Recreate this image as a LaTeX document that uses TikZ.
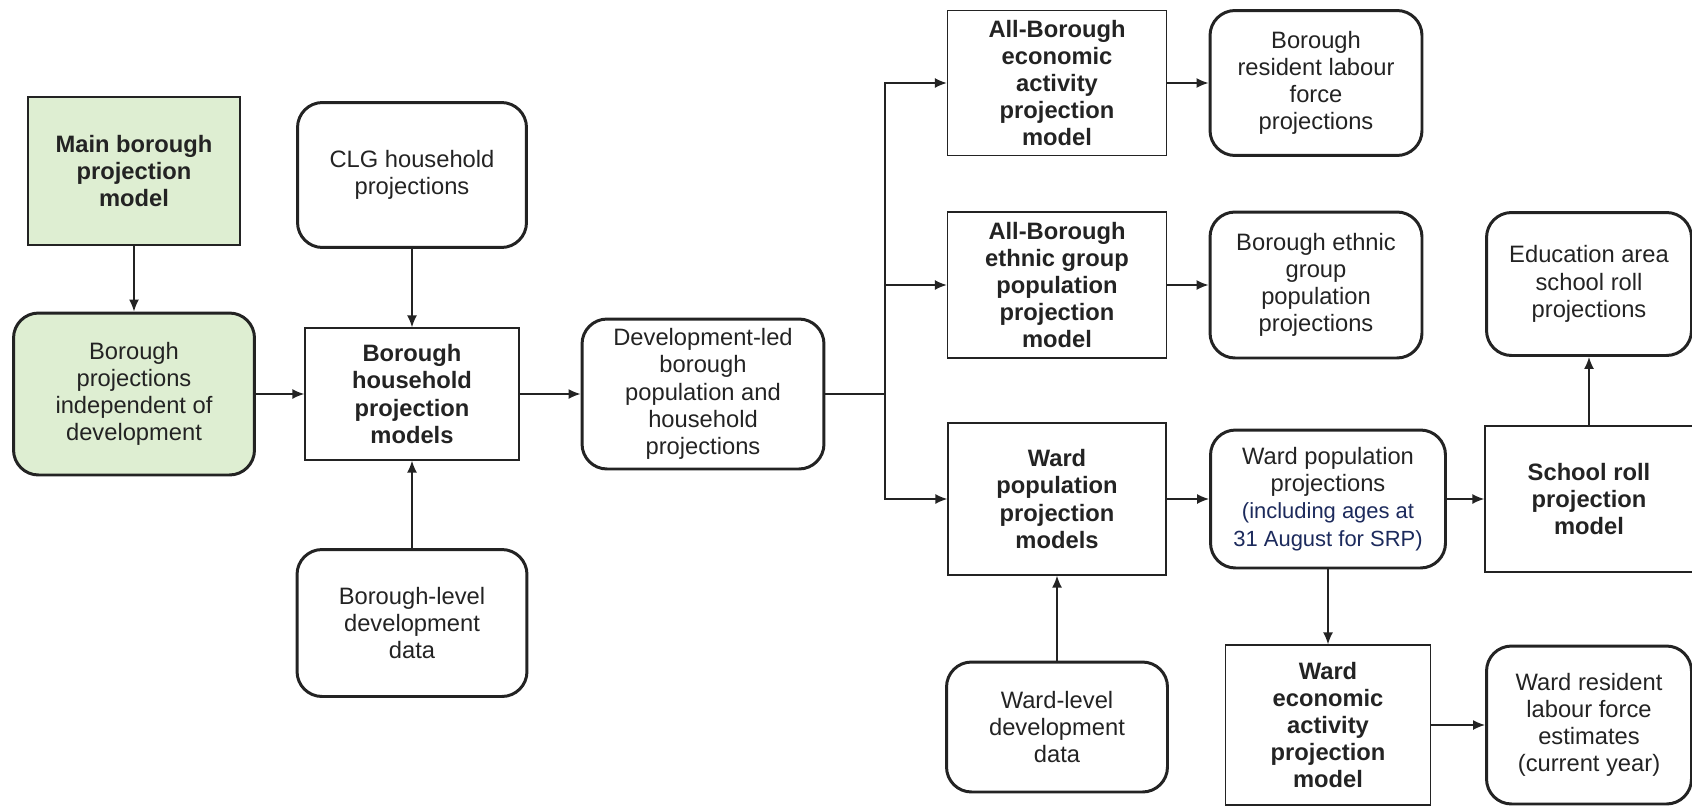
\documentclass[tikz,border=0pt]{standalone}
\usepackage{fontspec}
\setmainfont{Liberation Sans}
\usetikzlibrary{arrows.meta}
\definecolor{paleGreen}{RGB}{222,238,210}
\definecolor{inkNavy}{RGB}{28,42,92}
\definecolor{inkLine}{RGB}{35,35,35}
\begin{document}
\begin{tikzpicture}[x=0.02cm, y=-0.02cm,
          font=\fontsize{13.5}{15.5}\selectfont, color=inkLine,
          >={Latex[length=2.4mm,width=2mm]},
          model/.style={draw, line width=0.8pt, align=center, inner sep=2pt},
          output/.style={draw, line width=1.7pt, rounded corners=0.5cm, align=center, inner sep=2pt},
          green/.style={fill=paleGreen},
          flow/.style={->, line width=0.85pt}]
        \useasboundingbox (0,0) rectangle (1692,805);
        % left: borough level
        \node[model, green, minimum width=4.24cm, minimum height=2.96cm] (main) at (134,171) {\bfseries Main borough\\ \bfseries projection\\ \bfseries model};
        \node[output, green, minimum width=4.82cm, minimum height=3.24cm] (indep) at (134,394) {Borough\\ projections\\ independent of\\ development};
        \node[output, minimum width=4.58cm, minimum height=2.9cm] (clg) at (412,175) {CLG household\\ projections};
        \node[model, minimum width=4.28cm, minimum height=2.64cm] (bhm) at (412,394) {\bfseries Borough\\ \bfseries household\\ \bfseries projection\\ \bfseries models};
        \node[output, minimum width=4.6cm, minimum height=2.94cm] (blevel) at (412,623) {Borough-level\\ development\\ data};
        \node[output, minimum width=4.84cm, minimum height=3cm] (dev) at (703,394) {Development-led\\ borough\\ population and\\ household\\ projections};
        % right: all-borough and ward models
        \node[model, minimum width=4.38cm, minimum height=2.9cm] (econ) at (1057,83) {\bfseries All-Borough\\ \bfseries economic\\ \bfseries activity\\ \bfseries projection\\ \bfseries model};
        \node[output, minimum width=4.24cm, minimum height=2.9cm] (labour) at (1316,83) {Borough\\ resident labour\\ force\\ projections};
        \node[model, minimum width=4.38cm, minimum height=2.92cm] (ethnic) at (1057,285) {\bfseries All-Borough\\ \bfseries ethnic group\\ \bfseries population\\ \bfseries projection\\ \bfseries model};
        \node[output, minimum width=4.24cm, minimum height=2.92cm] (ethgrp) at (1316,285) {Borough ethnic\\ group\\ population\\ projections};
        \node[output, minimum width=4.1cm, minimum height=2.86cm] (edu) at (1589,284) {Education area\\ school roll\\ projections};
        \node[model, minimum width=4.36cm, minimum height=3.04cm] (wmodels) at (1057,499) {\bfseries Ward\\ \bfseries population\\ \bfseries projection\\ \bfseries models};
        \node[output, minimum width=4.7cm, minimum height=2.76cm] (wpop) at (1328,499) {Ward population\\ projections\\ {\fontsize{12.5}{15.5}\selectfont\textcolor{inkNavy}{(including ages at}}\\ {\fontsize{12.5}{15.5}\selectfont\textcolor{inkNavy}{31 August for SRP)}}};
        \node[model, minimum width=4.16cm, minimum height=2.92cm] (school) at (1589,499) {\bfseries School roll\\ \bfseries projection\\ \bfseries model};
        \node[output, minimum width=4.42cm, minimum height=2.6cm] (wlevel) at (1057,727) {Ward-level\\ development\\ data};
        \node[model, minimum width=4.1cm, minimum height=3.2cm] (wecon) at (1328,725) {\bfseries Ward\\ \bfseries economic\\ \bfseries activity\\ \bfseries projection\\ \bfseries model};
        \node[output, minimum width=4.1cm, minimum height=3.16cm] (wres) at (1589,725) {Ward resident\\ labour force\\ estimates\\ (current year)};
        \coordinate (fork) at (885,394);
        % connectors
        \draw[flow] (main) -- (indep);
        \draw[flow] (clg) -- (bhm);
        \draw[flow] (blevel) -- (bhm);
        \draw[flow] (indep) -- (bhm);
        \draw[flow] (bhm) -- (dev);
        \draw[line width=0.85pt] (dev) -- (fork);
        \draw[flow] (fork) |- (econ);
        \draw[flow] (fork) |- (ethnic);
        \draw[flow] (fork) |- (wmodels);
        \draw[flow] (econ) -- (labour);
        \draw[flow] (ethnic) -- (ethgrp);
        \draw[flow] (wmodels) -- (wpop);
        \draw[flow] (wpop) -- (school);
        \draw[flow] (school) -- (edu);
        \draw[flow] (wlevel) -- (wmodels);
        \draw[flow] (wpop) -- (wecon);
        \draw[flow] (wecon) -- (wres);
      \end{tikzpicture}
\end{document}
